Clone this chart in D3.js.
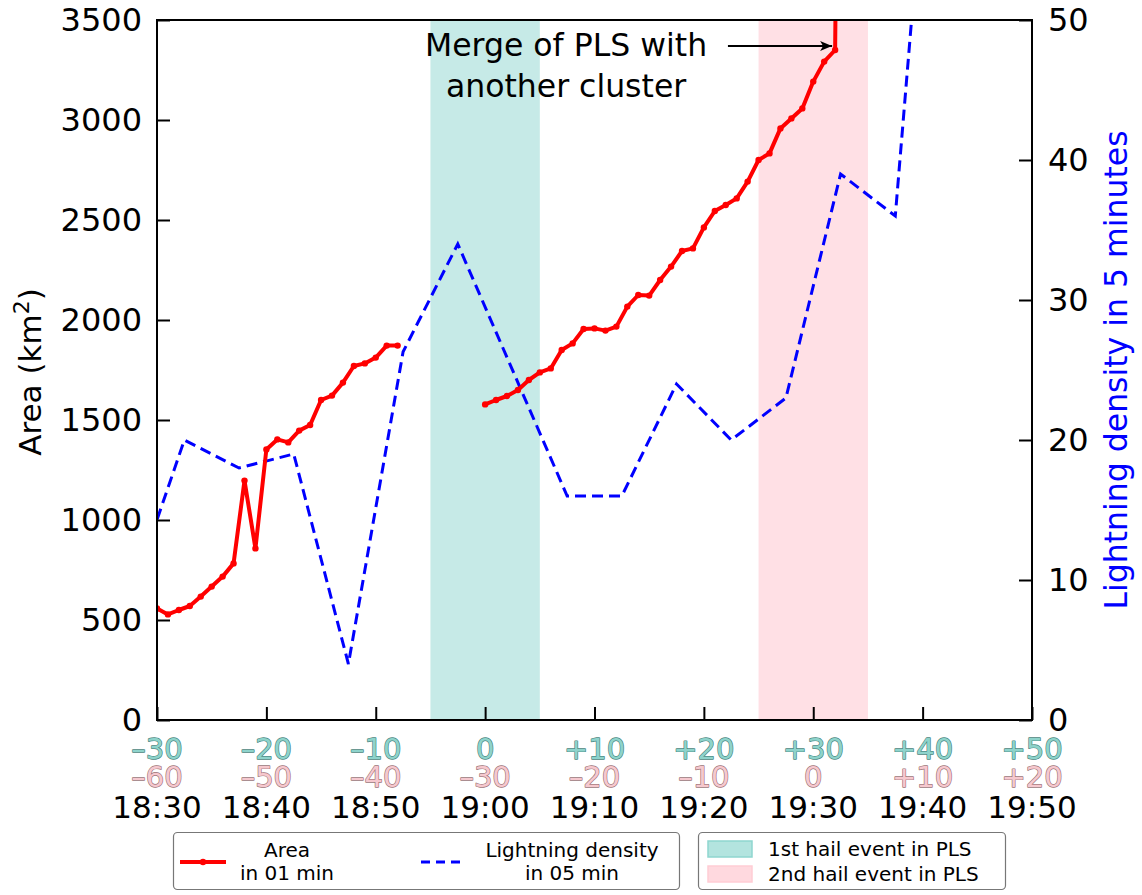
<!DOCTYPE html>
<html>
<head>
<meta charset="utf-8">
<script src="https://cdn.jsdelivr.net/npm/d3@7"></script>
<style>
  body { margin: 0; background: #fff; }
  text { font-family: "DejaVu Sans", sans-serif; }
</style>
</head>
<body>
<svg id="chart" width="1142" height="895"></svg>
<script>
// Minutes after 18:30 for the 1-minute area series (gap while tracking was lost)
const areaMinutes = [0, 1, 2, 3, 4, 5, 6, 7, 8, 9, 10, 11, 12, 13, 14, 15, 16, 17, 18, 19, 20, 21, 22,
  null,
  30, 31, 32, 33, 34, 35, 36, 37, 38, 39, 40, 41, 42, 43, 44, 45, 46, 47, 48, 49, 50, 51, 52,
  53, 54, 55, 56, 57, 58, 59, 60, 61, 62, 63];
// PLS area in km² (last value after the merge runs off the top of the axis)
const areaValues = [558, 528, 550, 570, 617, 667, 717, 783, 1197, 858, 1353, 1403, 1388, 1447, 1475, 1600,
  1622, 1687, 1770, 1783, 1812, 1872, 1872,
  null,
  1578, 1600, 1620, 1650, 1700, 1738, 1758, 1850, 1883, 1955, 1958, 1947, 1967, 2067, 2125, 2122,
  2200, 2267, 2345, 2358, 2463, 2545, 2575, 2608, 2692, 2800, 2833, 2958, 3008, 3058, 3192, 3292,
  3350, 9000];

// Lightning density, 5-minute bins (bin centres in minutes after 18:30)
const lightningMinutes = [-2.5, 2.5, 7.5, 12.5, 17.5, 22.5, 27.5, 37.5, 42.5, 47.5, 52.5, 57.5, 62.5, 67.5, 72.5];
const lightningValues = [8.6, 20, 18, 19, 4, 26.3, 34, 16, 16, 24, 20, 23, 39, 36, 83];

// Hail events in the PLS (minutes after 18:30)
const hailStart = [25, 55];
const hailEnd = [35, 65];
const hailNames = ["1st hail event in PLS", "2nd hail event in PLS"];
const hailFill = ["#c6eae7", "#ffe0e5"];

// Axis ticks and labels
const timeTicks = [0, 10, 20, 30, 40, 50, 60, 70, 80];
const relFirstLabels = ["–30", "–20", "–10", "0", "+10", "+20", "+30", "+40", "+50"];
const relSecondLabels = ["–60", "–50", "–40", "–30", "–20", "–10", "0", "+10", "+20"];
const clockLabels = ["18:30", "18:40", "18:50", "19:00", "19:10", "19:20", "19:30", "19:40", "19:50"];
const areaTicks = [0, 500, 1000, 1500, 2000, 2500, 3000, 3500];
const lightningTicks = [0, 10, 20, 30, 40, 50];

const svg = d3.select("#chart");
const margin = { left: 157, top: 20, right: 110, bottom: 175 };
const W = 1142, H = 895;
const pw = W - margin.left - margin.right;   // 875
const ph = H - margin.top - margin.bottom;   // 700

const x = d3.scaleLinear().domain([0, 80]).range([0, pw]);
const yArea = d3.scaleLinear().domain([0, 3500]).range([ph, 0]);
const yLight = d3.scaleLinear().domain([0, 50]).range([ph, 0]);

const g = svg.append("g").attr("transform", `translate(${margin.left},${margin.top})`);

svg.append("defs").append("clipPath").attr("id", "plotClip")
  .append("rect").attr("x", 0).attr("y", 0).attr("width", pw).attr("height", ph);

// Hail event bands
g.selectAll("rect.band").data(hailStart).join("rect")
  .attr("class", "band")
  .attr("x", (d) => x(d))
  .attr("y", 0)
  .attr("width", (d, i) => x(hailEnd[i]) - x(d))
  .attr("height", ph)
  .attr("fill", (d, i) => hailFill[i]);

const plot = g.append("g").attr("clip-path", "url(#plotClip)");

// Lightning density (dashed blue)
const lightPts = lightningMinutes.map((m, i) => [m, lightningValues[i]]);
plot.append("path")
  .datum(lightPts)
  .attr("fill", "none")
  .attr("stroke", "#0000ff")
  .attr("stroke-width", 3)
  .attr("stroke-dasharray", "11,6")
  .attr("d", d3.line().x((d) => x(d[0])).y((d) => yLight(d[1])));

// Area (solid red with point markers)
const areaPts = areaMinutes.map((m, i) => [m, areaValues[i]]);
plot.append("path")
  .datum(areaPts)
  .attr("fill", "none")
  .attr("stroke", "#ff0000")
  .attr("stroke-width", 4)
  .attr("stroke-linejoin", "round")
  .attr("d", d3.line().defined((d) => d[0] !== null).x((d) => x(d[0])).y((d) => yArea(d[1])));
plot.selectAll("circle.pt").data(areaPts.filter((d) => d[0] !== null)).join("circle")
  .attr("class", "pt")
  .attr("cx", (d) => x(d[0]))
  .attr("cy", (d) => yArea(d[1]))
  .attr("r", 3.2)
  .attr("fill", "#ff0000");

// Axes with inward ticks
const fontSize = 31;
const leftAxis = g.append("g")
  .call(d3.axisLeft(yArea).tickValues(areaTicks).tickFormat(d3.format("d"))
    .tickSizeInner(-13).tickSizeOuter(0).tickPadding(15));
const rightAxis = g.append("g").attr("transform", `translate(${pw},0)`)
  .call(d3.axisRight(yLight).tickValues(lightningTicks).tickFormat(d3.format("d"))
    .tickSizeInner(-13).tickSizeOuter(0).tickPadding(16));
const bottomAxis = g.append("g").attr("transform", `translate(0,${ph})`)
  .call(d3.axisBottom(x).tickValues(timeTicks).tickSizeInner(-13).tickSizeOuter(0).tickFormat(""));
[leftAxis, rightAxis, bottomAxis].forEach((a) => {
  a.select(".domain").remove();
  a.selectAll(".tick line").attr("stroke", "#000").attr("stroke-width", 2);
  a.selectAll(".tick text").attr("font-size", 32).attr("fill", "#000")
    .attr("font-family", "DejaVu Sans, sans-serif");
});

// Plot frame
g.append("rect").attr("x", 0).attr("y", 0).attr("width", pw).attr("height", ph)
  .attr("fill", "none").attr("stroke", "#000").attr("stroke-width", 2);

// Three-line x tick labels: relative to 1st hail, relative to 2nd hail, clock time
const tickLabels = g.append("g").selectAll("text").data(timeTicks).join("text")
  .attr("text-anchor", "middle")
  .attr("y", ph + 39)
  .attr("stroke-linejoin", "round")
  .attr("paint-order", "stroke");
tickLabels.append("tspan")
  .attr("x", (d) => x(d)).attr("font-size", 29)
  .attr("fill", "#8ed3cb").attr("stroke", "#4a8680").attr("stroke-width", 1.3)
  .text((d, i) => relFirstLabels[i]);
tickLabels.append("tspan")
  .attr("x", (d) => x(d)).attr("dy", 28).attr("font-size", 29)
  .attr("fill", "#f6c8ce").attr("stroke", "#9b7478").attr("stroke-width", 1.3)
  .text((d, i) => relSecondLabels[i]);
tickLabels.append("tspan")
  .attr("x", (d) => x(d)).attr("dy", 31).attr("font-size", fontSize)
  .attr("fill", "#000")
  .text((d, i) => clockLabels[i]);

// Axis titles
const leftTitle = svg.append("text")
  .attr("transform", `translate(41,372) rotate(-90)`)
  .attr("text-anchor", "middle")
  .attr("font-size", fontSize)
  .attr("fill", "#000");
leftTitle.append("tspan").text("Area (km");
leftTitle.append("tspan").attr("font-size", 22).attr("dy", -12).text("2");
leftTitle.append("tspan").attr("dy", 12).text(")");

svg.append("text")
  .attr("transform", `translate(1127,370) rotate(-90)`)
  .attr("text-anchor", "middle")
  .attr("font-size", 31.5)
  .attr("fill", "#0000ff")
  .text("Lightning density in 5 minutes");

// Merge annotation with arrow
const defs = svg.select("defs");
defs.append("marker").attr("id", "arrowHead")
  .attr("viewBox", "0 0 12 10").attr("refX", 12).attr("refY", 5)
  .attr("markerWidth", 12).attr("markerHeight", 10).attr("markerUnits", "userSpaceOnUse")
  .attr("orient", "auto")
  .append("path").attr("d", "M0,0 L12,5 L0,10 L3,5 Z").attr("fill", "#000");
const mergeMinute = 62;
const mergeArea = 3350;
g.append("line")
  .attr("x1", x(52.2)).attr("x2", x(mergeMinute) - 3)
  .attr("y1", yArea(mergeArea) - 4).attr("y2", yArea(mergeArea) - 4)
  .attr("stroke", "#000").attr("stroke-width", 1.8)
  .attr("marker-end", "url(#arrowHead)");
const note = g.append("text").attr("text-anchor", "middle").attr("font-size", 31.5).attr("fill", "#000");
note.append("tspan").attr("x", x(37.4)).attr("y", 36).text("Merge of PLS with");
note.append("tspan").attr("x", x(37.4)).attr("y", 77).text("another cluster");

// Legend 1: series
const leg1 = svg.append("g");
leg1.append("rect").attr("x", 173.5).attr("y", 832.5).attr("width", 506).attr("height", 57)
  .attr("rx", 4).attr("fill", "#fff").attr("stroke", "#777").attr("stroke-width", 1.2);
leg1.append("line").attr("x1", 180).attr("x2", 226).attr("y1", 862).attr("y2", 862)
  .attr("stroke", "#ff0000").attr("stroke-width", 4);
leg1.append("circle").attr("cx", 203).attr("cy", 862).attr("r", 3.2).attr("fill", "#ff0000");
const l1t = leg1.append("text").attr("text-anchor", "middle").attr("font-size", 20).attr("fill", "#000");
l1t.append("tspan").attr("x", 287).attr("y", 857).text("Area");
l1t.append("tspan").attr("x", 287).attr("y", 880).text("in 01 min");
leg1.append("line").attr("x1", 421).attr("x2", 465).attr("y1", 862).attr("y2", 862)
  .attr("stroke", "#0000ff").attr("stroke-width", 3).attr("stroke-dasharray", "9,6");
const l2t = leg1.append("text").attr("text-anchor", "middle").attr("font-size", 20).attr("fill", "#000");
l2t.append("tspan").attr("x", 572).attr("y", 857).text("Lightning density");
l2t.append("tspan").attr("x", 572).attr("y", 880).text("in 05 min");

// Legend 2: hail events
const leg2 = svg.append("g");
leg2.append("rect").attr("x", 698.5).attr("y", 832.5).attr("width", 307).attr("height", 57)
  .attr("rx", 4).attr("fill", "#fff").attr("stroke", "#777").attr("stroke-width", 1.2);
hailNames.forEach((name, i) => {
  leg2.append("rect").attr("x", 708).attr("y", 841 + i * 25).attr("width", 44).attr("height", 16)
    .attr("fill", i === 0 ? "#b3e4df" : "#ffd9df")
    .attr("stroke", i === 0 ? "#8fd6cf" : "#ffcdd5").attr("stroke-width", 1.5);
  leg2.append("text").attr("x", 768).attr("y", 856 + i * 25).attr("font-size", 20)
    .attr("fill", "#000").text(name);
});
</script>
</body>
</html>
